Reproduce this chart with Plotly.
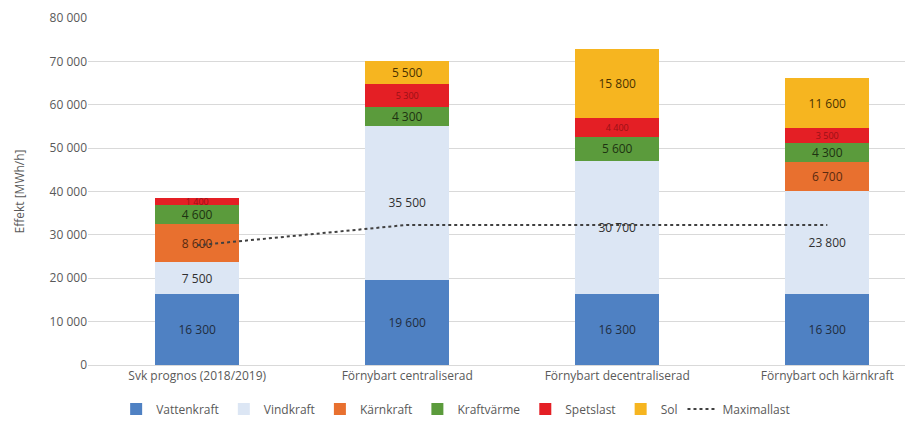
import plotly.graph_objects as go

categories = ["Svk prognos (2018/2019)", "Förnybart centraliserad",
              "Förnybart decentraliserad", "Förnybart och kärnkraft"]
vattenkraft = [16300, 19600, 16300, 16300]
vindkraft = [7500, 35500, 30700, 23800]
karnkraft = [8600, 0, 0, 6700]
kraftvarme = [4600, 4300, 5600, 4300]
spetslast = [1400, 5300, 4400, 3500]
sol = [0, 5500, 15800, 11600]
maximallast = [27600, 32300, 32300, 32300]

series = [
    ("Vattenkraft", vattenkraft, "#4f81c3", "#1f2d40", 12),
    ("Vindkraft", vindkraft, "#dce6f4", "#303030", 12),
    ("Kärnkraft", karnkraft, "#e8702f", "#5a2a10", 12),
    ("Kraftvärme", kraftvarme, "#5b9b3c", "#1e3312", 12),
    ("Spetslast", spetslast, "#e41f25", "#9a1015", 9),
    ("Sol", sol, "#f6b520", "#4a3300", 12),
]

fig = go.Figure()
for name, vals, color, tcol, fs in series:
    texts = [f"{v:,}".replace(",", " ") if v > 0 else "" for v in vals]
    fig.add_trace(go.Bar(
        name=name, x=categories, y=vals, marker_color=color,
        marker_line_width=0,
        text=texts, textposition="inside", insidetextanchor="middle",
        textangle=0, constraintext="none",
        textfont=dict(color=tcol, size=fs, family="Open Sans"),
        hoverinfo="skip",
    ))

fig.add_trace(go.Scatter(
    name="Maximallast", x=categories, y=maximallast, mode="lines",
    line=dict(color="#404040", width=2, dash="dot"),
))

fig.update_layout(
    barmode="stack",
    bargap=0.6,
    width=915, height=422,
    margin=dict(l=88, r=10, t=18, b=57, autoexpand=False),
    plot_bgcolor="white", paper_bgcolor="white",
    separators=", ",
    font=dict(family="Open Sans", size=12, color="#595959"),
    showlegend=True,
    legend=dict(orientation="h", x=0.45, xanchor="center", y=-0.085,
                yanchor="top", font=dict(size=12, color="#595959"),
                traceorder="normal", itemwidth=30, tracegroupgap=0,
                bgcolor="rgba(0,0,0,0)"),
    xaxis=dict(range=[-0.52, 3.37], showgrid=False, showline=True,
               linecolor="#d9d9d9", ticks="", tickfont=dict(size=12)),
    yaxis=dict(range=[0, 80000], tickvals=list(range(0, 80001, 10000)),
               tickformat=",d", gridcolor="#d9d9d9", zeroline=False,
               showline=False, ticks="", tickfont=dict(size=12),
               title=dict(text="Effekt [MWh/h]", font=dict(size=12),
                          standoff=22)),
)

fig.write_html("out.html")
